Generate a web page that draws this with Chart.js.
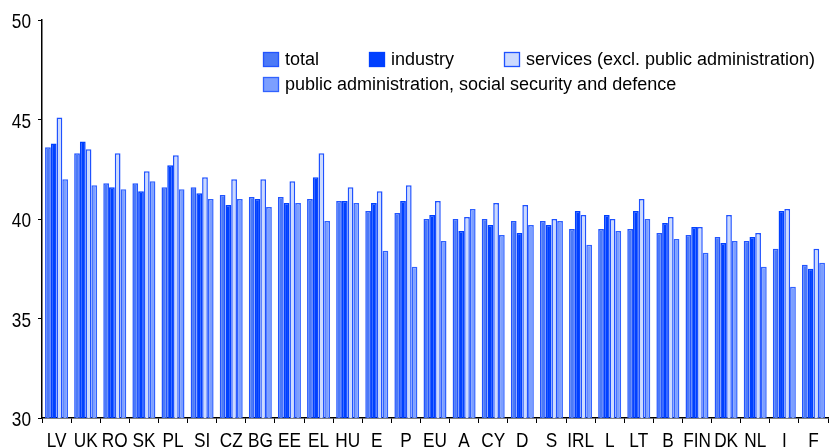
<!DOCTYPE html>
<html>
<head>
<meta charset="utf-8">
<script src="https://cdn.jsdelivr.net/npm/chart.js@4/dist/chart.umd.min.js"></script>
<style>
html,body{margin:0;padding:0;background:#fff;}
#wrap{width:829px;height:448px;position:relative;}
</style>
</head>
<body>
<div id="wrap"><canvas id="c" width="829" height="448"></canvas></div>
<script>
const categories = ["LV","UK","RO","SK","PL","SI","CZ","BG","EE","EL","HU","E","P","EU","A","CY","D","S","IRL","L","LT","B","FIN","DK","NL","I","F"];
const total    = [43.6,43.3,41.8,41.8,41.6,41.6,41.2,41.1,41.1,41.0,40.9,40.4,40.3,40.0,40.0,40.0,39.9,39.9,39.5,39.5,39.5,39.3,39.2,39.1,38.9,38.5,37.7];
const industry = [43.8,43.9,41.6,41.4,42.7,41.3,40.7,41.0,40.8,42.1,40.9,40.8,40.9,40.2,39.4,39.7,39.3,39.7,40.4,40.2,40.4,39.8,39.6,38.8,39.1,40.4,37.5];
const services = [45.1,43.5,43.3,42.4,43.2,42.1,42.0,42.0,41.9,43.3,41.6,41.4,41.7,40.9,40.1,40.8,40.7,40.0,40.2,40.0,41.0,40.1,39.6,40.2,39.3,40.5,38.5];
const publicAdm= [42.0,41.7,41.5,41.9,41.5,41.0,41.0,40.6,40.8,39.9,40.8,38.4,37.6,38.9,40.5,39.2,39.7,39.9,38.7,39.4,40.0,39.0,38.3,38.9,37.6,36.6,37.8];
const seriesLabels = ["total","industry","services (excl. public administration)","public administration, social security and defence"];
const yMin = 30, yMax = 50, yStep = 5;

const FONT = "'Liberation Sans', Arial, sans-serif";

// draw axis labels in a narrow (condensed) style like the original
const narrowTicks = {
  id: 'narrowTicks',
  afterDraw(chart) {
    const ctx = chart.ctx;
    const sx = 0.82;
    ctx.save();
    ctx.font = "21px " + FONT;
    ctx.fillStyle = '#000';
    ctx.textBaseline = 'alphabetic';
    const xs = chart.scales.x;
    xs.ticks.forEach((t, i) => {
      const px = xs.getPixelForTick(i);
      const label = chart.data.labels[t.value];
      ctx.save();
      ctx.translate(px, xs.top + 28.5);
      ctx.scale(sx, 1);
      ctx.textAlign = 'center';
      ctx.fillText(label, 0, 0);
      ctx.restore();
    });
    const ys = chart.scales.y;
    ys.ticks.forEach((t, i) => {
      const py = ys.getPixelForTick(i);
      ctx.save();
      ctx.translate(31, py + 8);
      ctx.scale(sx, 1);
      ctx.textAlign = 'right';
      ctx.fillText(String(t.value), 0, 0);
      ctx.restore();
    });
    ctx.restore();
  }
};

const legendPlugin = {
  id: 'customLegend',
  afterDraw(chart) {
    const ctx = chart.ctx;
    const ds = chart.data.datasets;
    const pos = [[263,52],[369,52],[504,52],[263,77]];
    ctx.save();
    ctx.font = "18px " + FONT;
    ctx.textBaseline = 'middle';
    ds.forEach((d, i) => {
      const [x, y] = pos[i];
      ctx.fillStyle = d.backgroundColor;
      ctx.fillRect(x, y, 16, 15);
      ctx.strokeStyle = d.borderColor;
      ctx.lineWidth = 1.3;
      ctx.strokeRect(x + 0.5, y + 0.5, 15, 14);
      ctx.fillStyle = '#000';
      ctx.fillText(d.label, x + 22, y + 8);
    });
    ctx.restore();
  }
};

new Chart(document.getElementById('c'), {
  type: 'bar',
  data: {
    labels: categories,
    datasets: [
      {label: seriesLabels[0], data: total,     backgroundColor: '#4c7af7', borderColor: '#2255ff', borderWidth: 1.5},
      {label: seriesLabels[1], data: industry,  backgroundColor: '#0040ff', borderColor: '#0040ff', borderWidth: 1.5},
      {label: seriesLabels[2], data: services,  backgroundColor: '#ccdafe', borderColor: '#1f52ff', borderWidth: 1.5},
      {label: seriesLabels[3], data: publicAdm, backgroundColor: '#7c9fff', borderColor: '#3062ff', borderWidth: 1.5}
    ]
  },
  options: {
    responsive: false,
    animation: false,
    layout: {padding: {top: 20, right: 1, left: 0, bottom: 0}},
    plugins: {legend: {display: false}, tooltip: {enabled: false}},
    datasets: {bar: {categoryPercentage: 0.79, barPercentage: 1.0}},
    scales: {
      x: {
        grid: {display: true, drawOnChartArea: false, drawTicks: true, tickLength: 5, color: '#000', offset: true},
        border: {display: true, color: '#000', width: 1.5},
        ticks: {color: 'rgba(0,0,0,0)', font: {family: FONT, size: 12}, maxRotation: 0, autoSkip: false, padding: 4},
        afterFit(s) { s.height = 30; }
      },
      y: {
        min: yMin, max: yMax,
        grid: {display: true, drawOnChartArea: false, drawTicks: true, tickLength: 4, color: '#000'},
        border: {display: true, color: '#000', width: 1.5},
        ticks: {stepSize: yStep, color: 'rgba(0,0,0,0)', font: {family: FONT, size: 12}, padding: 6},
        afterFit(s) { s.width = 42; }
      }
    }
  },
  plugins: [narrowTicks, legendPlugin]
});
</script>
</body>
</html>
